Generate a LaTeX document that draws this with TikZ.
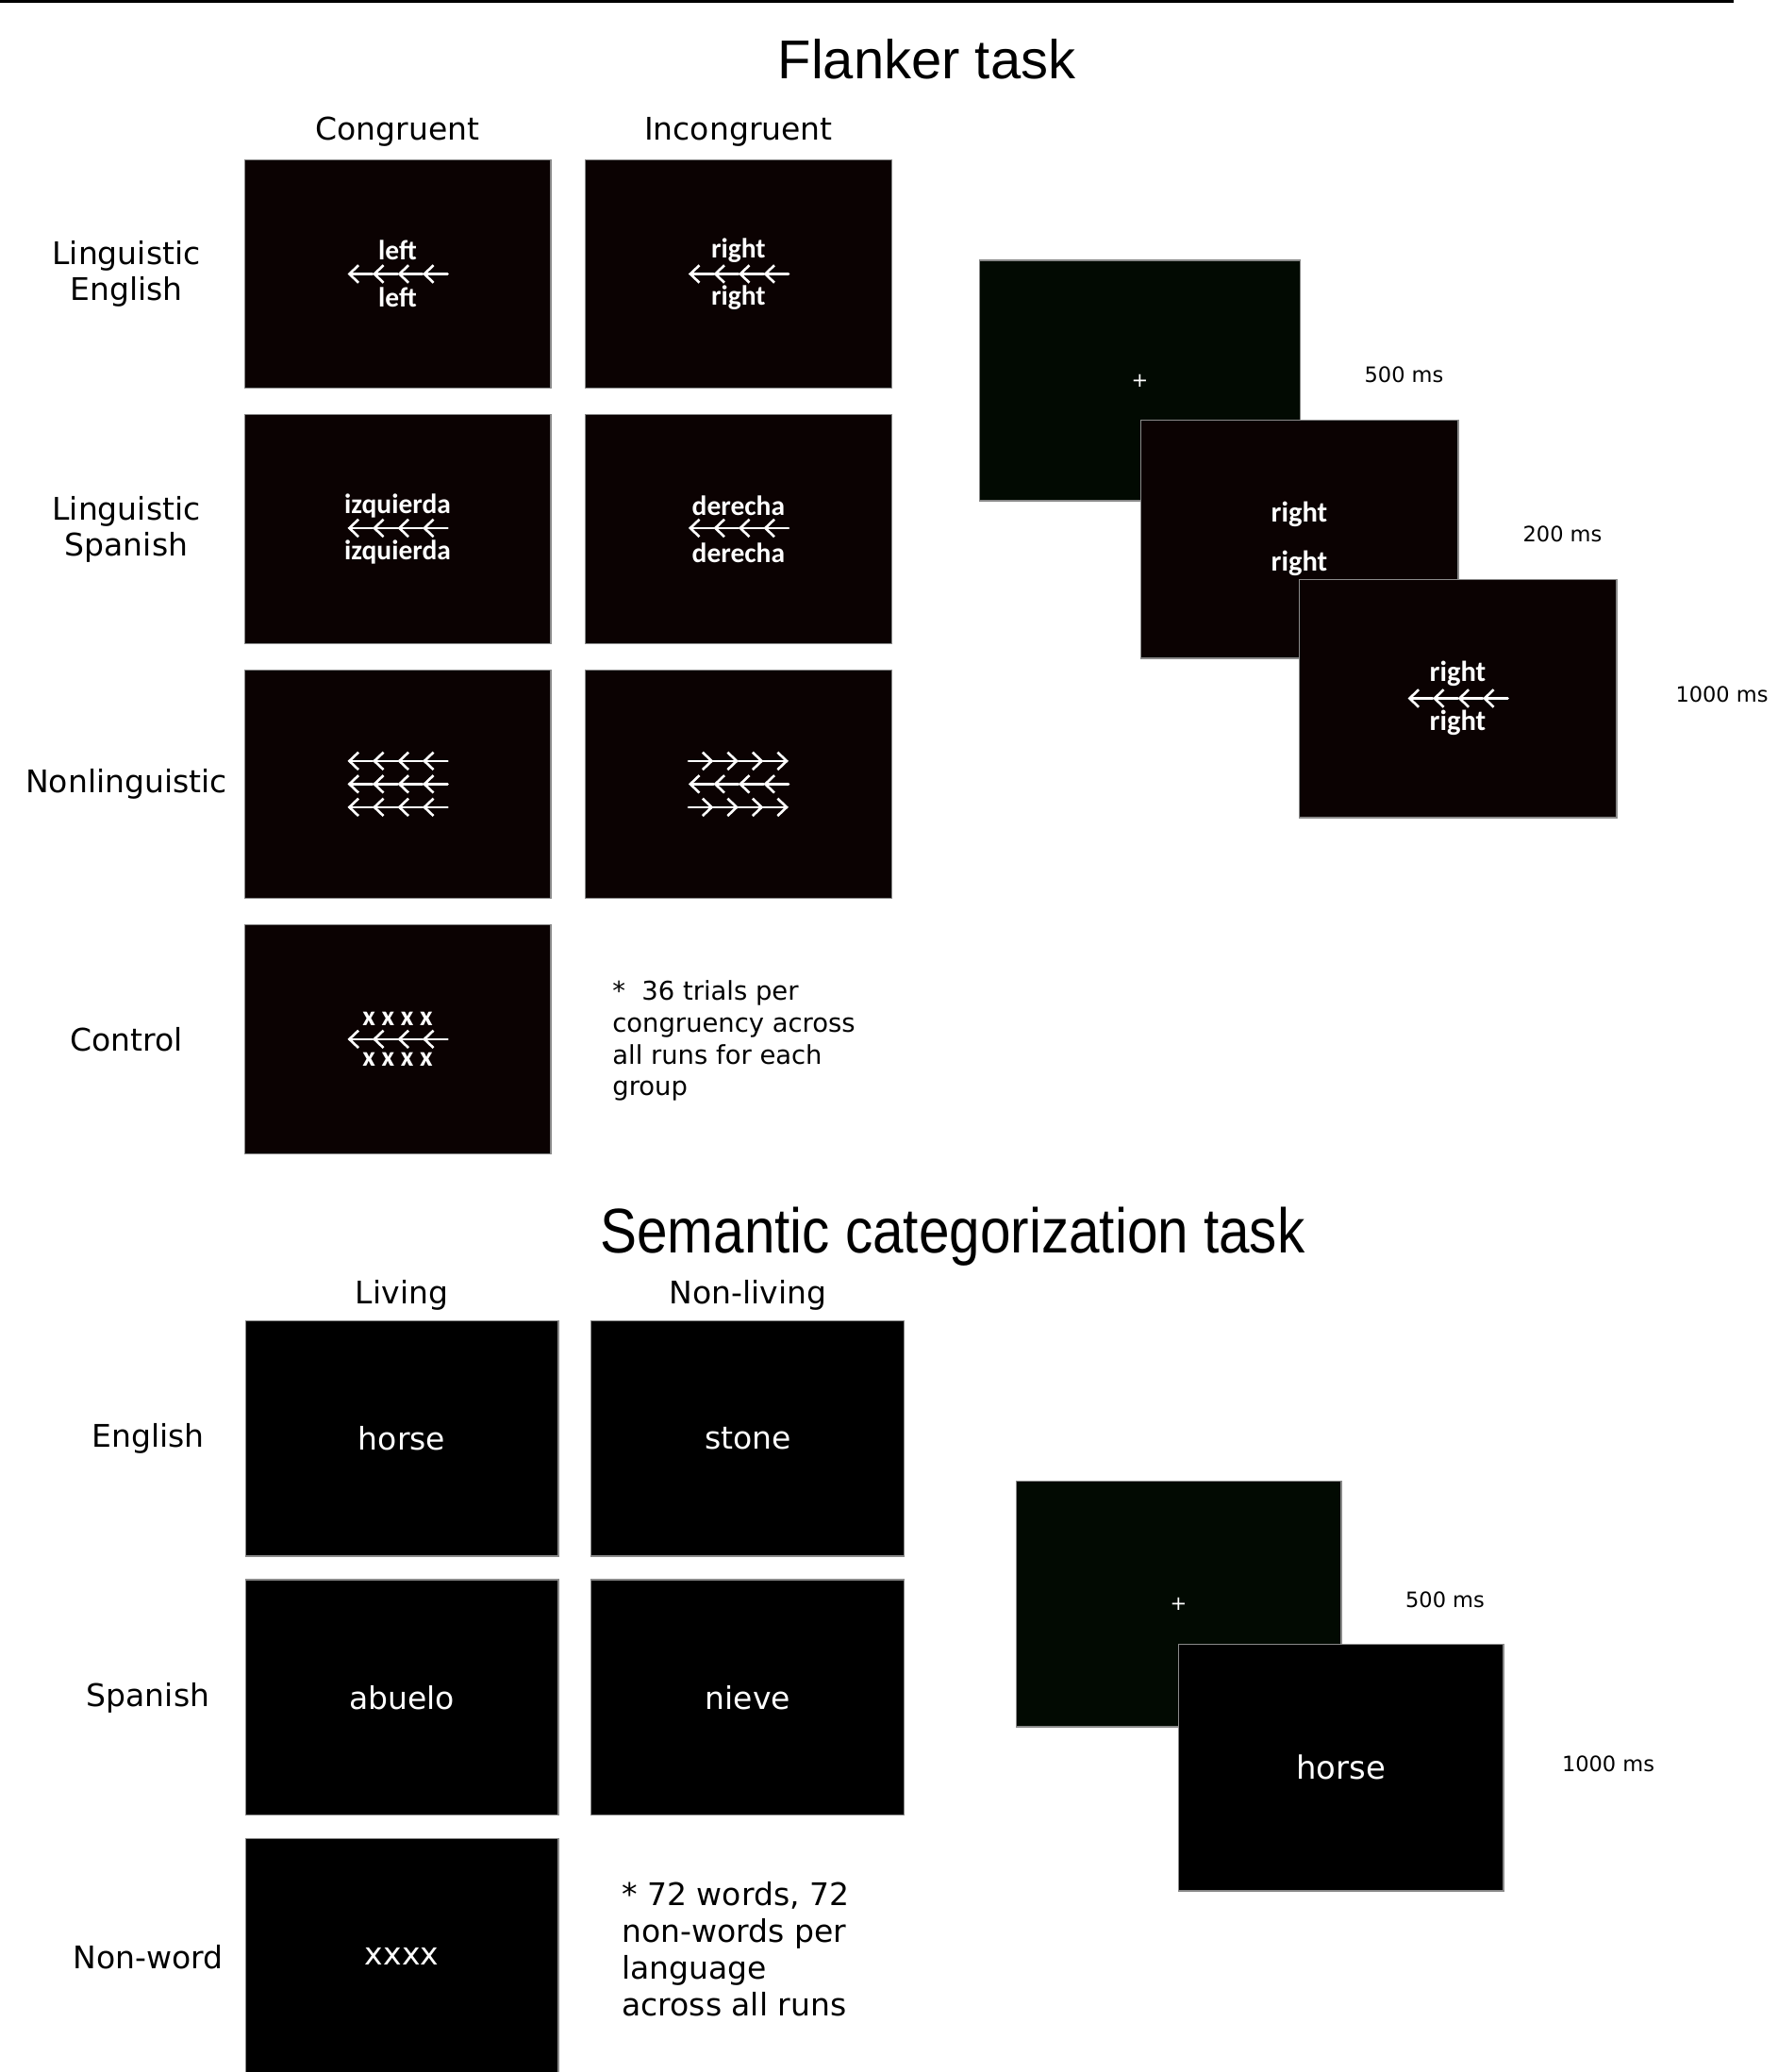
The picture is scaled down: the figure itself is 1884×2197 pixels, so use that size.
\documentclass[tikz,border=0pt]{standalone}
\usepackage{fontspec}
\setmainfont{DejaVu Sans}
\newfontfamily\titlefont{Liberation Sans}
\newfontfamily\narrowtitlefont{Liberation Sans}[FakeStretch=0.873]
\newfontfamily\stimfont{Carlito}
\usetikzlibrary{arrows.meta,positioning,calc}
\definecolor{FlankBg}{HTML}{0B0202}
\definecolor{FixBg}{HTML}{020A02}
\definecolor{SemBg}{HTML}{000000}
\definecolor{BoxEdge}{HTML}{8A8A8A}
% a row of four flanker arrows round a node: node, y offset, tip style
\newcommand\arrowrow[3]{%
  \foreach \k in {0,...,3}{\draw[stimarrow,#3] ($(#1)+(26.5*\k-53,#2)$) -- ++(26.5,0);}}

\begin{document}
\begin{tikzpicture}[
    x=0.02cm, y=-0.02cm,
    node distance=0.56cm and 0.73cm,
    panel/.style={rectangle, draw=BoxEdge, line width=0.6pt, inner sep=0pt, outer sep=0pt, text=white, align=center},
    flbox/.style={panel, fill=FlankBg, minimum width=6.5cm, minimum height=4.85cm, font=\stimfont\bfseries\fontsize{16.8}{28.4}\selectfont},
    trialbox/.style={flbox, minimum width=6.74cm, minimum height=5.06cm, font=\stimfont\bfseries\fontsize{17.4}{30}\selectfont},
    fixbox/.style={panel, fill=FixBg, minimum width=6.8cm, minimum height=5.1cm, font=\fontsize{12}{14}\selectfont},
    sembox/.style={panel, fill=SemBg, minimum width=6.64cm, minimum height=5cm, font=\fontsize{18.8}{22}\selectfont},
    stimarrow/.style={draw=white, line width=1.5pt, line cap=round},
    lefttip/.style={{Straight Barb[length=5.5pt,width=10.5pt]}-},
    righttip/.style={-{Straight Barb[length=5.5pt,width=10.5pt]}},
    title/.style={font=\titlefont\fontsize{33}{40}\selectfont, anchor=base},
    colhdr/.style={font=\fontsize{18.8}{22}\selectfont, anchor=base},
    rowlbl/.style={font=\fontsize{18.8}{21.6}\selectfont, align=center},
    note/.style={align=left, anchor=north west, inner sep=0pt},
    timing/.style={font=\fontsize{12.8}{15}\selectfont, anchor=base}
  ]
    \path[use as bounding box, fill=white] (0,0) rectangle (1884,2197);

    % rule on top
    \coordinate (ruleL) at (0,1.5);
    \coordinate (ruleR) at (1838,1.5);
    \draw[line width=1.7pt] (ruleL) -- (ruleR);

    % Flanker task
    \node[title] (flTitle) at (982.5,84) {Flanker task};

    \node[flbox] (engC) at (421.5,290.5) {left\\left};
    \node[flbox, right=of engC] (engI) {right\\right};
    \node[flbox, below=of engC] (spaC) {izquierda\\izquierda};
    \node[flbox, right=of spaC] (spaI) {derecha\\derecha};
    \node[flbox, below=of spaC] (nonC) {};
    \node[flbox, right=of nonC] (nonI) {};
    \node[flbox, below=of nonC, font=\stimfont\bfseries\fontsize{16.8}{24.5}\selectfont] (ctlC) {x x x x\\x x x x};

    \arrowrow{engC}{0}{lefttip}
    \arrowrow{engI}{0}{lefttip}
    \arrowrow{spaC}{-1}{lefttip}
    \arrowrow{spaI}{-1}{lefttip}
    \arrowrow{nonC}{-24.5}{lefttip}
    \arrowrow{nonC}{0}{lefttip}
    \arrowrow{nonC}{24.5}{lefttip}
    \arrowrow{nonI}{-24.5}{righttip}
    \arrowrow{nonI}{0}{lefttip}
    \arrowrow{nonI}{24.5}{righttip}
    \arrowrow{ctlC}{0}{lefttip}

    \node[colhdr] (hdrCon) at ($(engC.north)+(0,-21)$) {Congruent};
    \node[colhdr] (hdrInc) at ($(engI.north)+(0,-21)$) {Incongruent};

    \coordinate (flLab) at (134,0);
    \node[rowlbl] (labEng) at (engC -| flLab) {Linguistic\\English};
    \node[rowlbl] (labSpa) at (spaC -| flLab) {Linguistic\\Spanish};
    \node[rowlbl] (labNon) at (nonC -| flLab) {Nonlinguistic};
    \node[rowlbl] (labCtl) at (ctlC -| flLab) {Control};

    \node[note, font=\fontsize{15.6}{19.3}\selectfont] (flNote) at (649,1039) {*\ \ 36 trials per\\congruency across\\all runs for each\\group};

    % flanker trial
    \node[fixbox] (flFix) at (1208.5,403.5) {+};
    \node[trialbox] (flCue) at ($(flFix)+(169,168)$) {right\\right};
    \node[trialbox] (flTgt) at ($(flCue)+(168,169)$) {right\\right};
    \arrowrow{flTgt}{0}{lefttip}

    \node[timing] (fl500) at (1488.5,405) {500 ms};
    \node[timing] (fl200) at (1656.5,574) {200 ms};
    \node[timing] (fl1000) at (1825.5,744) {1000 ms};

    % Semantic categorization task
    \node[title, font=\narrowtitlefont\fontsize{38.1}{44}\selectfont] (semTitle) at (1010,1328) {Semantic categorization task};

    \node[sembox] (engL) at (426,1525) {horse};
    \node[sembox, right=0.7cm of engL] (engN) {stone};
    \node[sembox, below=0.5cm of engL] (spaL) {abuelo};
    \node[sembox, right=0.7cm of spaL] (spaN) {nieve};
    \node[sembox, below=0.5cm of spaL] (nwL) {xxxx};

    \node[colhdr] (hdrLiv) at ($(engL.north)+(0,-18)$) {Living};
    \node[colhdr] (hdrNon) at ($(engN.north)+(0,-18)$) {Non-living};

    \coordinate (semLab) at (157,0);
    \node[rowlbl] (labSemEng) at (engL -| semLab) {English};
    \node[rowlbl] (labSemSpa) at (spaL -| semLab) {Spanish};
    \node[rowlbl] (labSemNw) at (nwL -| semLab) {Non-word};

    \node[note, font=\fontsize{18.8}{22.2}\selectfont] (semNote) at (659,1995) {* 72 words, 72\\non-words per\\language\\across all runs};

    % semantic trial
    \node[fixbox, minimum width=6.9cm, minimum height=5.22cm] (semFix) at (1249.5,1700.5) {+};
    \node[sembox, minimum width=6.9cm, minimum height=5.24cm, font=\fontsize{19.3}{22}\selectfont] (semTgt) at ($(semFix)+(172,173.5)$) {horse};

    \node[timing] (sem500) at (1532,1704) {500 ms};
    \node[timing] (sem1000) at (1705,1878) {1000 ms};
  \end{tikzpicture}
\end{document}
